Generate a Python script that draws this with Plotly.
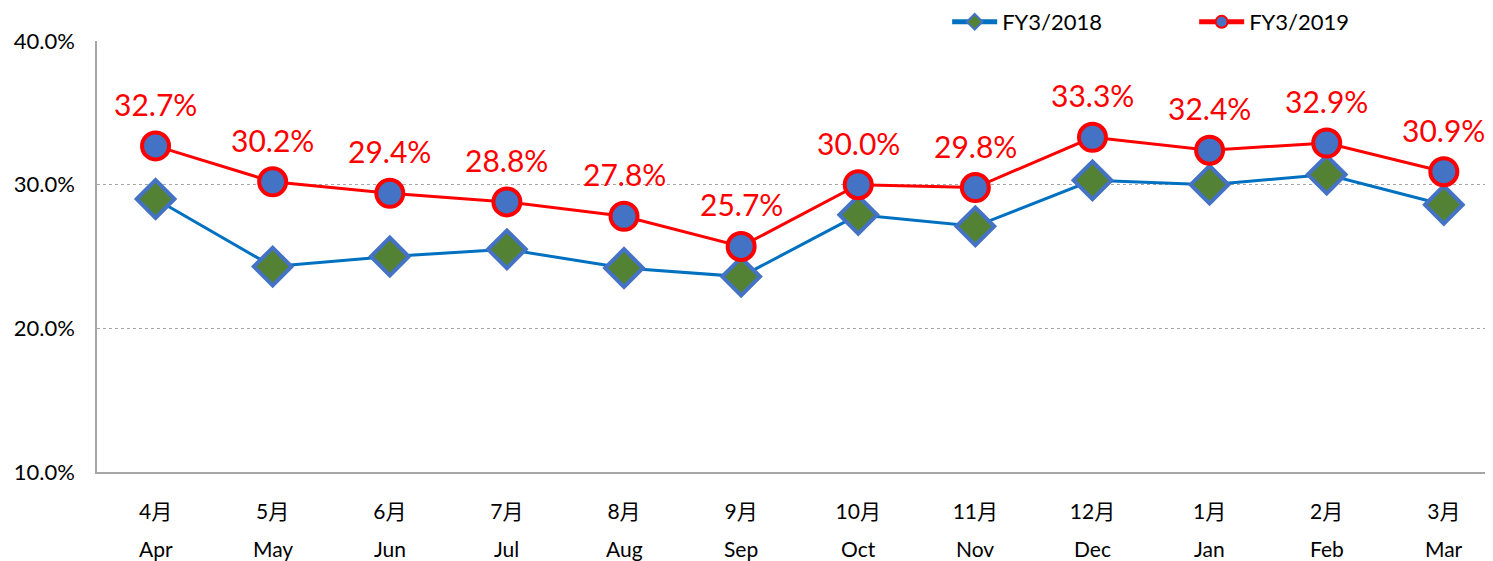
import plotly.graph_objects as go

months_jp = ["4月", "5月", "6月", "7月", "8月", "9月", "10月", "11月", "12月", "1月", "2月", "3月"]
months_en = ["Apr", "May", "Jun", "Jul", "Aug", "Sep", "Oct", "Nov", "Dec", "Jan", "Feb", "Mar"]
fy2018 = [29.0, 24.3, 25.0, 25.5, 24.2, 23.6, 27.9, 27.1, 30.3, 30.0, 30.7, 28.6]
fy2019 = [32.7, 30.2, 29.4, 28.8, 27.8, 25.7, 30.0, 29.8, 33.3, 32.4, 32.9, 30.9]
yticks = [10, 20, 30, 40]

FONT = "Lato, 'Noto Sans CJK JP', sans-serif"
xs = list(range(len(months_en)))

fig = go.Figure()
fig.add_trace(go.Scatter(
    x=xs, y=fy2018, name="FY3/2018", mode="lines+markers",
    line=dict(color="#0070C0", width=3),
    marker=dict(symbol="diamond", size=29, color="#548235",
                line=dict(color="#4472C4", width=4)),
))
fig.add_trace(go.Scatter(
    x=xs, y=fy2019, name="FY3/2019", mode="lines+markers",
    line=dict(color="#FF0000", width=3),
    marker=dict(symbol="circle", size=27, color="#4472C4",
                line=dict(color="#FF0000", width=4)),
))

annotations = []
for i, v in enumerate(fy2019):
    annotations.append(dict(x=i, y=v, xref="x", yref="y", text=f"{v:.1f}%",
                            showarrow=False, yshift=42,
                            font=dict(family=FONT, size=30, color="#FF0000")))
for i, m in enumerate(months_en):
    annotations.append(dict(x=i, y=0, xref="x", yref="paper", text=m,
                            showarrow=False, yanchor="middle", yshift=-76,
                            font=dict(family=FONT, size=21, color="#000000")))

fig.update_layout(
    width=1485, height=553,
    margin=dict(l=89, r=0, t=33, b=89, autoexpand=False),
    plot_bgcolor="white", paper_bgcolor="white",
    font=dict(family=FONT, size=21, color="#000000"),
    showlegend=True,
    legend=dict(orientation="h", x=0.609, y=1.044, xanchor="left", yanchor="middle",
                font=dict(family=FONT, size=22, color="#000000"),
                itemsizing="constant", itemwidth=45,
                entrywidth=187, bgcolor="rgba(0,0,0,0)"),
    annotations=annotations,
    xaxis=dict(
        range=[-0.5, 11.42], tickmode="array", tickvals=xs, ticktext=months_jp,
        showgrid=False, showline=True, linecolor="#A6A6A6", linewidth=1.5,
        ticks="", ticklabelstandoff=20, tickfont=dict(size=21),
        zeroline=False,
    ),
    yaxis=dict(
        range=[10, 40], tickmode="array", tickvals=yticks,
        ticktext=[f"{t:.1f}%" for t in yticks],
        showgrid=True, gridcolor="#A6A6A6", griddash="dot", gridwidth=1,
        showline=True, linecolor="#A6A6A6", linewidth=1.5,
        ticks="", ticklabelstandoff=16, tickfont=dict(size=22),
        zeroline=False,
    ),
)

fig.write_html("out.html")
